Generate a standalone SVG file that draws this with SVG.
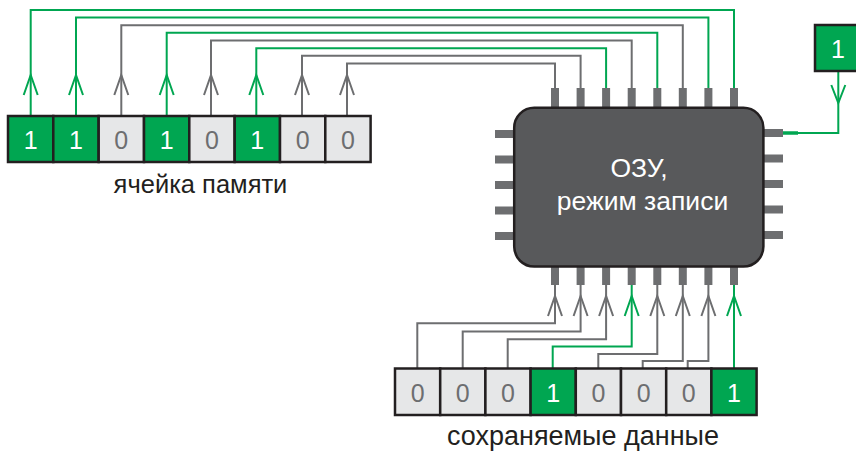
<svg xmlns="http://www.w3.org/2000/svg" width="856" height="451" viewBox="0 0 856 451" xmlns:xlink="http://www.w3.org/1999/xlink">
<style>
.cell{stroke:#231f20;stroke-width:2.5}
.one{fill:#00a651}
.zero{fill:#e6e7e8}
.dig{font-family:"Liberation Sans",Arial,sans-serif;font-size:25px;text-anchor:middle}
.dw{fill:#ffffff}
.dg{fill:#6d6e70}
.lbl{font-family:"Liberation Sans",Arial,sans-serif;font-size:25.5px;fill:#231f20;text-anchor:middle}
.chiptxt{font-family:"Liberation Sans",Arial,sans-serif;font-size:26.5px;fill:#ffffff;text-anchor:middle}
.pin{fill:#6d6e70}
.w{fill:none;stroke-width:2}
.g{stroke:#00a651}
.k{stroke:#6d6e70}
</style>
<defs>
<path id="up" d="M-7,20 L0,0 L7,20" fill="none" stroke-width="2"/>
<path id="down" d="M-7,-18 L0,0 L7,-18" fill="none" stroke-width="2"/>
</defs>

<g id="connectors">
  <path class="w g" d="M30.7,116 V10 H734 V88"/>
  <path class="w g" d="M76,116 V17.6 H708.4 V88"/>
  <path class="w k" d="M121.3,116 V25.2 H682.8 V88"/>
  <path class="w g" d="M166.7,116 V32.8 H657.3 V88"/>
  <path class="w k" d="M211,116 V40.6 H631.7 V88"/>
  <path class="w g" d="M256.3,116 V48.2 H606.1 V88"/>
  <path class="w k" d="M302,116 V55.8 H580.6 V88"/>
  <path class="w k" d="M347,116 V63.4 H555 V88"/>
  <use xlink:href="#up" x="30.7" y="75" class="g"/>
  <use xlink:href="#up" x="76" y="75" class="g"/>
  <use xlink:href="#up" x="121.3" y="75" class="k"/>
  <use xlink:href="#up" x="166.7" y="75" class="g"/>
  <use xlink:href="#up" x="211" y="75" class="k"/>
  <use xlink:href="#up" x="256.3" y="75" class="g"/>
  <use xlink:href="#up" x="302" y="75" class="k"/>
  <use xlink:href="#up" x="347" y="75" class="k"/>
  <path class="w k" d="M417.3,368 V323.3 H555 V285"/>
  <path class="w k" d="M462.7,368 V331.5 H580.6 V285"/>
  <path class="w k" d="M507.7,368 V339.3 H606.1 V285"/>
  <path class="w g" d="M552.7,368 V346.5 H631.7 V285"/>
  <path class="w k" d="M598.3,368 V354 H657.3 V285"/>
  <path class="w k" d="M642.7,368 V361 H682.8 V285"/>
  <path class="w k" d="M687.7,368 V361 H708.4 V285"/>
  <path class="w g" d="M734,368 V285"/>
  <use xlink:href="#up" x="555" y="296" class="k"/>
  <use xlink:href="#up" x="580.6" y="296" class="k"/>
  <use xlink:href="#up" x="606.1" y="296" class="k"/>
  <use xlink:href="#up" x="631.7" y="296" class="g"/>
  <use xlink:href="#up" x="657.3" y="296" class="k"/>
  <use xlink:href="#up" x="682.8" y="296" class="k"/>
  <use xlink:href="#up" x="708.4" y="296" class="k"/>
  <use xlink:href="#up" x="734" y="296" class="g"/>
  <path class="w g" d="M838.3,71 V133 H781"/>
  <path d="M781,133 H798" stroke="#00a651" stroke-width="3.5"/>
  <use xlink:href="#down" x="838.3" y="103" class="g"/>
</g>

<g id="memory-cell">
  <g id="mc1"><rect class="cell one" x="8" y="116" width="45.3" height="46"/><text class="dig dw" x="30.7" y="148.5">1</text></g>
  <g id="mc2"><rect class="cell one" x="53.3" y="116" width="45.3" height="46"/><text class="dig dw" x="76" y="148.5">1</text></g>
  <g id="mc3"><rect class="cell zero" x="98.7" y="116" width="45.3" height="46"/><text class="dig dg" x="121.3" y="148.5">0</text></g>
  <g id="mc4"><rect class="cell one" x="144" y="116" width="45.3" height="46"/><text class="dig dw" x="166.7" y="148.5">1</text></g>
  <g id="mc5"><rect class="cell zero" x="189.3" y="116" width="45.3" height="46"/><text class="dig dg" x="212" y="148.5">0</text></g>
  <g id="mc6"><rect class="cell one" x="234.7" y="116" width="45.3" height="46"/><text class="dig dw" x="257.3" y="148.5">1</text></g>
  <g id="mc7"><rect class="cell zero" x="280" y="116" width="45.3" height="46"/><text class="dig dg" x="302.7" y="148.5">0</text></g>
  <g id="mc8"><rect class="cell zero" x="325.3" y="116" width="45.3" height="46"/><text class="dig dg" x="348" y="148.5">0</text></g>
  <text class="lbl" x="200.5" y="193">ячейка памяти</text>
</g>

<g id="ram">
  <rect class="pin" x="551" y="88" width="8" height="20"/>
  <rect class="pin" x="576.6" y="88" width="8" height="20"/>
  <rect class="pin" x="602.1" y="88" width="8" height="20"/>
  <rect class="pin" x="627.7" y="88" width="8" height="20"/>
  <rect class="pin" x="653.3" y="88" width="8" height="20"/>
  <rect class="pin" x="678.8" y="88" width="8" height="20"/>
  <rect class="pin" x="704.4" y="88" width="8" height="20"/>
  <rect class="pin" x="730" y="88" width="8" height="20"/>
  <rect class="pin" x="551" y="266" width="8" height="19"/>
  <rect class="pin" x="576.6" y="266" width="8" height="19"/>
  <rect class="pin" x="602.1" y="266" width="8" height="19"/>
  <rect class="pin" x="627.7" y="266" width="8" height="19"/>
  <rect class="pin" x="653.3" y="266" width="8" height="19"/>
  <rect class="pin" x="678.8" y="266" width="8" height="19"/>
  <rect class="pin" x="704.4" y="266" width="8" height="19"/>
  <rect class="pin" x="730" y="266" width="8" height="19"/>
  <rect class="pin" x="495" y="130" width="20" height="8"/>
  <rect class="pin" x="495" y="155.5" width="20" height="8"/>
  <rect class="pin" x="495" y="181" width="20" height="8"/>
  <rect class="pin" x="495" y="206.5" width="20" height="8"/>
  <rect class="pin" x="495" y="232" width="20" height="8"/>
  <rect class="pin" x="763" y="129" width="20" height="8"/>
  <rect class="pin" x="763" y="154.5" width="20" height="8"/>
  <rect class="pin" x="763" y="180" width="20" height="8"/>
  <rect class="pin" x="763" y="205.5" width="20" height="8"/>
  <rect class="pin" x="763" y="231" width="20" height="8"/>
  <rect x="514.2" y="107.8" width="249.2" height="158.8" rx="20" ry="20" fill="#58595b" stroke="#231f20" stroke-width="2.5"/>
  <text class="chiptxt" x="639" y="177">ОЗУ,</text>
  <text class="chiptxt" x="642.5" y="210">режим записи</text>
</g>

<g id="write-signal">
  <rect class="cell one" x="815" y="25" width="46" height="46"/>
  <text class="dig dw" x="838" y="57.5">1</text>
</g>

<g id="data">
  <g id="d1"><rect class="cell zero" x="395" y="368.5" width="45.2" height="46.5"/><text class="dig dg" x="417.6" y="402">0</text></g>
  <g id="d2"><rect class="cell zero" x="440.2" y="368.5" width="45.2" height="46.5"/><text class="dig dg" x="462.8" y="402">0</text></g>
  <g id="d3"><rect class="cell zero" x="485.4" y="368.5" width="45.2" height="46.5"/><text class="dig dg" x="508" y="402">0</text></g>
  <g id="d4"><rect class="cell one" x="530.6" y="368.5" width="45.2" height="46.5"/><text class="dig dw" x="553.2" y="402">1</text></g>
  <g id="d5"><rect class="cell zero" x="575.8" y="368.5" width="45.2" height="46.5"/><text class="dig dg" x="598.4" y="402">0</text></g>
  <g id="d6"><rect class="cell zero" x="621" y="368.5" width="45.2" height="46.5"/><text class="dig dg" x="643.6" y="402">0</text></g>
  <g id="d7"><rect class="cell zero" x="666.2" y="368.5" width="45.2" height="46.5"/><text class="dig dg" x="688.8" y="402">0</text></g>
  <g id="d8"><rect class="cell one" x="711.4" y="368.5" width="45.2" height="46.5"/><text class="dig dw" x="734" y="402">1</text></g>
  <text class="lbl" x="583" y="445" style="font-size:27px">сохраняемые данные</text>
</g>
</svg>
